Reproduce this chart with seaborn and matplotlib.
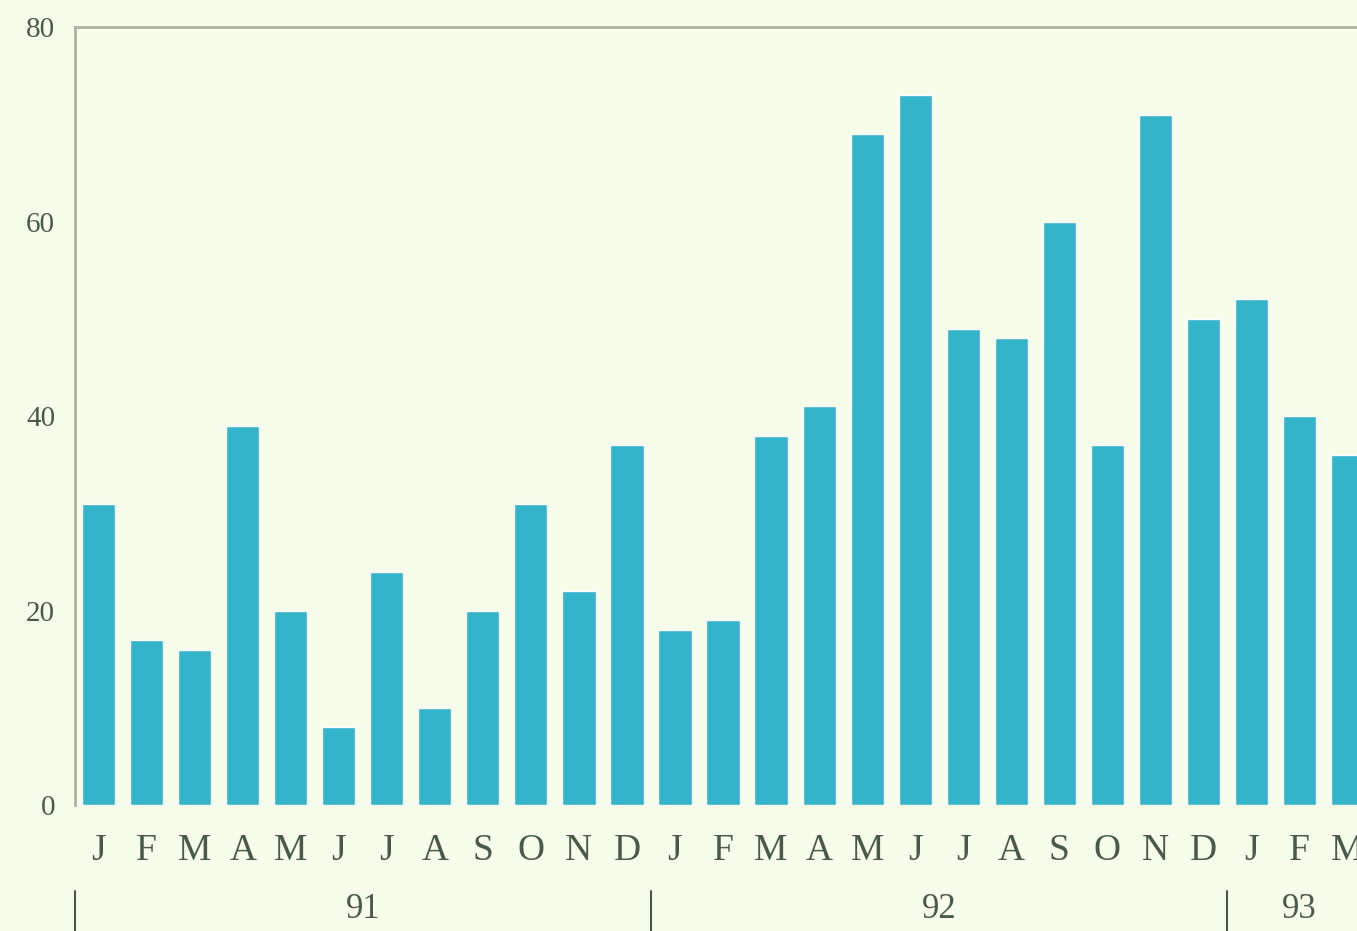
import pandas as pd
import seaborn as sns
import matplotlib.pyplot as plt

# monthly values, Jan 91 .. Mar 93
months = ["J", "F", "M", "A", "M", "J", "J", "A", "S", "O", "N", "D",
          "J", "F", "M", "A", "M", "J", "J", "A", "S", "O", "N", "D",
          "J", "F", "M"]
values = [31, 17, 16, 39, 20, 8, 24, 10, 20, 31, 22, 37,
          18, 19, 38, 41, 69, 73, 49, 48, 60, 37, 71, 50,
          52, 40, 36]
years = ["91", "92", "93"]
year_start = [0, 12, 24]

BG = "#f6fdea"
BAR = "#34b4cb"
INK = "#4a5a4a"

sns.set_theme(style="white")
plt.rcParams["font.family"] = ["Liberation Serif", "DejaVu Serif"]

df = pd.DataFrame({"pos": range(len(values)), "value": values})

fig = plt.figure(figsize=(13.57, 9.31), dpi=100, facecolor=BG)
ax = fig.add_axes([0.055, 0.135, 0.945, 0.836])
ax.set_facecolor(BG)

sns.barplot(data=df, x="pos", y="value", color=BAR, width=0.69,
            saturation=1, ax=ax)

ax.set_xlim(-0.5, 26.2)
ax.set_ylim(0, 80)
ax.set_yticks([0, 20, 40, 60, 80])
ax.set_yticklabels(["0", "20", "40", "60", "80"], fontsize=21, color=INK)
ax.set_xticks(range(len(months)))
ax.set_xticklabels(months, fontsize=27, color=INK)
ax.tick_params(axis="x", length=0, pad=20)
ax.tick_params(axis="y", length=0, pad=14)
ax.set_xlabel("")
ax.set_ylabel("")

for side in ["right", "bottom"]:
    ax.spines[side].set_visible(False)
for side in ["left", "top"]:
    ax.spines[side].set_color("#aab4a0")
    ax.spines[side].set_linewidth(2)

# year labels and separators below the month labels
trans = ax.get_xaxis_transform()
for i, yr in enumerate(years):
    x0 = year_start[i] - 0.5
    ax.plot([x0, x0], [-0.11, -0.165], transform=trans, color=INK,
            lw=1.5, clip_on=False)
    x1 = year_start[i + 1] - 0.5 if i + 1 < len(year_start) else 26.0
    ax.text((x0 + x1) / 2 if i < 2 else 25.0, -0.113, yr, transform=trans,
            ha="center", va="top", fontsize=25, color=INK)

fig.savefig("out.png", dpi=100, facecolor=BG)
